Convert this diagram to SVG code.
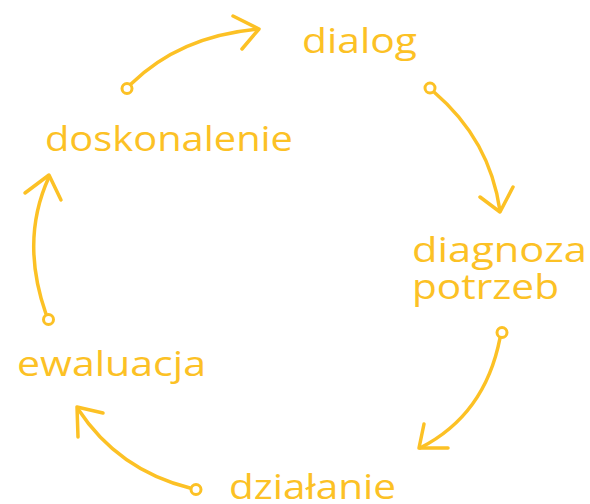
<svg xmlns="http://www.w3.org/2000/svg" width="590" height="504" viewBox="0 0 590 504">
<style>
.lbl{font-family:"Open Sans","Noto Sans","Liberation Sans",sans-serif;font-size:34px;font-weight:500;fill:#FCC125;}
.ln{fill:none;stroke:#FCC125;stroke-width:3.5;stroke-linecap:round;stroke-linejoin:round;}
.dot{fill:#fff;stroke:#FCC125;stroke-width:3;}
</style>
<rect width="590" height="504" fill="#fff"/>
<g id="connectors">
  <g id="c1"><path class="ln" d="M131,84 Q180,36 258,29"/><path class="ln" d="M233,16 L259,29 L242,49"/><circle class="dot" cx="127" cy="88.5" r="5"/></g>
  <g id="c2"><path class="ln" d="M434,92 Q490,140 500,211"/><path class="ln" d="M480,197 L500,212 L513,187"/><circle class="dot" cx="430" cy="88" r="5"/></g>
  <g id="c3"><path class="ln" d="M500,338 Q485,415 420,448"/><path class="ln" d="M424,424 L419,448 L448,448"/><circle class="dot" cx="502" cy="332.5" r="5"/></g>
  <g id="c4"><path class="ln" d="M190,488 Q118,470 78,409"/><path class="ln" d="M103,413 L77,407 L78,437"/><circle class="dot" cx="196" cy="489.5" r="5"/></g>
  <g id="c5"><path class="ln" d="M46,314 Q20,240 49,177"/><path class="ln" d="M25,193 L49,175 L61,200"/><circle class="dot" cx="48.5" cy="319.5" r="5"/></g>
</g>
<g id="dialog"><text class="lbl" x="302" y="53" textLength="115" lengthAdjust="spacingAndGlyphs">dialog</text></g>
<g id="diagnoza"><text class="lbl" x="412" y="262" textLength="175" lengthAdjust="spacingAndGlyphs">diagnoza</text><text class="lbl" x="412" y="299" textLength="147" lengthAdjust="spacingAndGlyphs">potrzeb</text></g>
<g id="dzialanie"><text class="lbl" x="229" y="499" textLength="167" lengthAdjust="spacingAndGlyphs">działanie</text></g>
<g id="ewaluacja"><text class="lbl" x="17" y="376" textLength="189" lengthAdjust="spacingAndGlyphs">ewaluacja</text></g>
<g id="doskonalenie"><text class="lbl" x="45" y="151" textLength="248" lengthAdjust="spacingAndGlyphs">doskonalenie</text></g>
</svg>
